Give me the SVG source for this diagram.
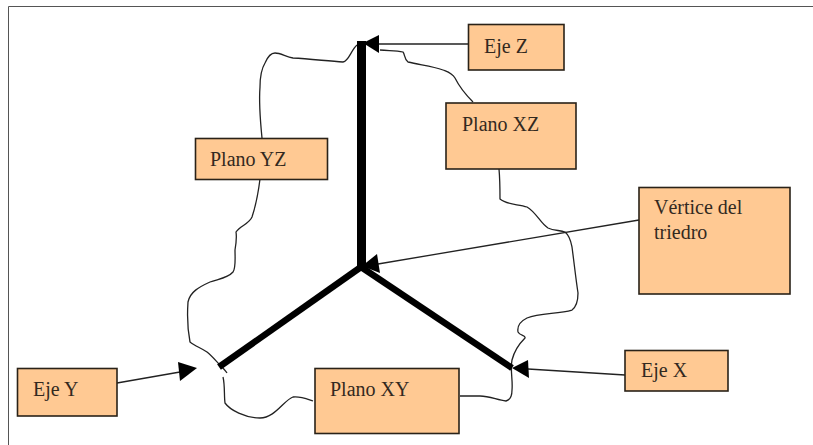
<svg xmlns="http://www.w3.org/2000/svg" width="813" height="445" viewBox="0 0 813 445">
<style>
.box{fill:#ffc993;stroke:#2a2218;stroke-width:1.6}
text{font-family:"Liberation Serif","Times New Roman",serif;font-size:20px;fill:#33291f}
.axis{stroke:#000;fill:none}
.thin{fill:none;stroke:#222;stroke-width:1.3}
.head{fill:#000;stroke:none}
</style>
<rect width="813" height="445" fill="#fff"/>
<path d="M8.500 445V6.500H813" fill="none" stroke="#555" stroke-width="1"/>
<g id="connectors">
<path class="thin" d="M262 138C260 118 259 100 260 87C260 75 262 68 265 63C268 56 271 53 275 53C281 53 286 57 293 58C310 59 328 61 343 62C349 61 351 50 357 45"/>
<path class="thin" d="M260 179C258 195 255 208 252 217C249 224 240 226 236 232C237 238 236 244 235 250C235 258 236 268 233 272C228 278 218 279 210 282C199 287 190 292 188 302C187 317 188 332 190 342C195 346 201 348 207 352C212 356 216 361 220 365C223 368 225 370 227 373"/>
<path class="thin" d="M223 377C225 385 224 396 225 403C230 410 245 418 260 418C275 418 284 400 293 397C300 396 307 399 313 401"/>
<path class="thin" d="M473 102C465 94 459 86 455 78C452 73 448 72 443 70C432 66 420 65 408 62C404 59 405 54 403 52C396 50 388 51 380 50"/>
<path class="thin" d="M499 169C500 180 500 190 500 199C507 205 518 204 527 207C536 212 541 224 548 228C554 231 560 230 565 232C570 236 571 242 572 247C574 262 576 280 578 293C578 301 576 307 572 310C558 314 540 313 527 318C521 321 517 326 518 332C520 336 526 335 525 338C519 344 514 352 512 360C510 370 513 380 512 390C512 396 510 400 506 401C497 400 490 396 480 396C473 396 466 396 460 396"/>
<path class="thin" d="M468 44H378"/>
<path class="thin" d="M639 220L378 264"/>
<path class="thin" d="M117 383L180 372"/>
<path class="thin" d="M625 375L528 369"/>
<path class="axis" stroke-width="9" d="M361.500 41V268"/>
<path class="axis" stroke-width="6.500" d="M361 267L219 367"/>
<path class="axis" stroke-width="6.500" d="M361 267L512 368"/>
<path class="head" d="M363 43L379 35V53Z"/>
<path class="head" d="M362 266L377 254L380 273Z"/>
<path class="head" d="M197 368L178 362L180 381Z"/>
<path class="head" d="M512 368L528 360L529 378Z"/>
</g>
<g id="eje-z"><rect class="box" x="468.500" y="24.500" width="95.500" height="45.500"/><text x="484" y="53">Eje Z</text></g>
<g id="plano-xz"><rect class="box" x="446" y="103" width="130" height="66"/><text x="462" y="131">Plano XZ</text></g>
<g id="plano-yz"><rect class="box" x="195.500" y="138.500" width="132" height="41"/><text x="210" y="166">Plano YZ</text></g>
<g id="vertice"><rect class="box" x="639" y="187.500" width="151" height="106.500"/><text x="654" y="214">Vértice del</text><text x="654" y="239">triedro</text></g>
<g id="eje-y"><rect class="box" x="17.500" y="368.500" width="99.500" height="47.500"/><text x="33" y="396">Eje Y</text></g>
<g id="plano-xy"><rect class="box" x="315" y="368.500" width="144" height="65"/><text x="330" y="396">Plano XY</text></g>
<g id="eje-x"><rect class="box" x="625" y="350.500" width="103" height="40.500"/><text x="641" y="377">Eje X</text></g>
</svg>
